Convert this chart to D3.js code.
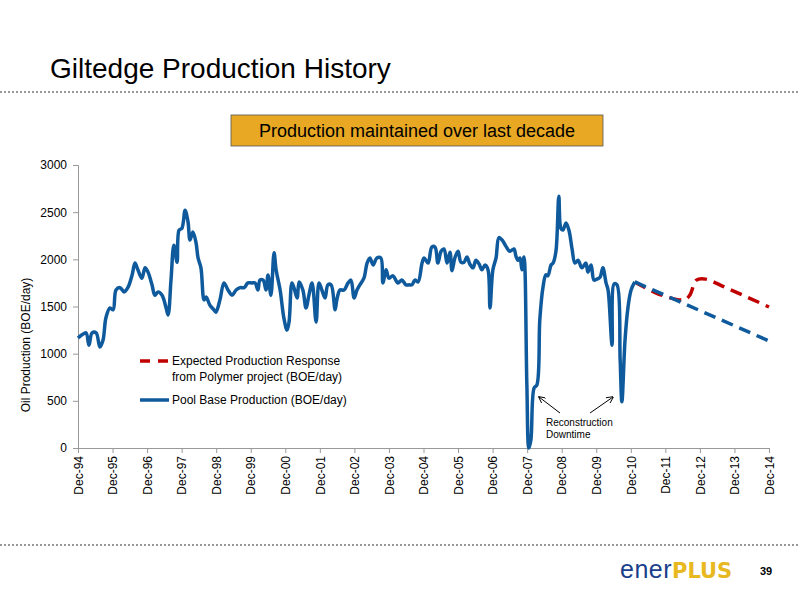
<!DOCTYPE html>
<html>
<meta charset="utf-8">
<style>
  body { margin: 0; background: #fff; }
  text { font-family: "Liberation Sans", Arial, sans-serif; }
</style>
<body>
<svg width="800" height="600"></svg>
<script src="https://d3js.org/d3.v7.min.js"></script>
<script>
// months since Dec-94
const baseMonths = [0,1.4,2.8,3.8,4.9,6.3,7.6,8.7,9.7,11.1,12.2,13.2,14.6,16.0,17.4,18.8,19.8,20.8,22.2,23.3,24.3,25.7,26.7,27.8,29.2,30.6,31.3,32.3,33.3,34.4,35.1,36.1,37.2,38.2,38.9,39.9,41.0,41.7,42.7,43.8,44.5,45.8,47.2,47.9,49.3,50.7,52.1,53.5,54.9,56.3,57.7,59.0,60.4,61.5,62.5,63.2,64.3,65.3,66.0,67.0,68.1,68.8,70.2,71.5,72.6,73.3,74.3,75.0,76.1,76.8,78.1,79.2,80.2,81.3,82.7,83.7,84.7,85.8,86.8,87.9,89.3,89.9,91.0,92.4,93.8,94.8,95.9,96.9,97.9,99.3,100.4,101.4,102.5,103.8,105.2,105.9,107.0,108.0,109.4,111.1,112.5,113.9,115.0,116.0,117.0,118.1,119.5,120.2,121.6,122.9,124.0,125.0,126.1,127.1,128.2,129.2,129.9,130.9,132.0,133.0,134.1,135.1,136.1,137.2,138.2,139.3,140.3,141.4,142.4,143.1,144.1,145.2,146.2,147.3,148.6,150.0,151.4,152.1,152.8,153.5,154.2,154.9,155.9,156.6,157.3,158.4,159.4,160.4,161.5,162.5,163.2,164.3,165.0,166.0,167.0,167.7,168.4,169.5,170.5,171.6,172.6,173.7,175.0,176.4,177.1,178.2,179.2,180.2,181.3,182.3,183.4,184.1,185.5,186.2,187.2,188.3,188.9,190.0,191.0,192.1,193.4];
const baseValues = [1166,1200,1220,1090,1220,1220,1070,1145,1380,1485,1465,1675,1700,1655,1705,1835,1960,1890,1800,1910,1865,1730,1620,1655,1620,1485,1410,1780,2150,1970,2310,2330,2520,2400,2205,2290,2175,2015,1910,1570,1600,1515,1465,1440,1570,1750,1675,1620,1675,1700,1700,1750,1750,1750,1675,1780,1780,1675,1835,1620,2070,1890,1675,1380,1250,1335,1750,1700,1590,1760,1675,1485,1620,1750,1335,1750,1675,1590,1730,1730,1465,1570,1675,1675,1750,1780,1590,1675,1730,1800,1960,2015,1940,2015,2015,1750,1890,1800,1825,1750,1780,1730,1730,1730,1780,1760,1960,2015,1960,2130,2130,1960,2085,2110,1960,2075,1880,2015,2085,1970,1970,2025,1950,1910,1990,1950,1890,1940,1890,1485,1890,2015,2230,2205,2140,2085,2110,2035,1990,2015,1890,2025,670,0,85,635,670,1360,1705,1835,1825,1940,1960,2085,2670,2330,2310,2385,2310,2110,1960,1990,1910,1960,1865,1940,1780,1790,1810,1910,1750,1675,1090,1740,1730,935,490,1145,1485,1675,1760];
const baseFcMonths = [193.4, 240];
const baseFcValues = [1760, 1135];
const polyMonths = [193.4, 201.8, 210.5, 212.5, 214.8, 218, 225, 240];
const polyValues = [1760, 1630, 1570, 1620, 1780, 1790, 1700, 1495];
const tickLabels = ["Dec-94","Dec-95","Dec-96","Dec-97","Dec-98","Dec-99","Dec-00","Dec-01","Dec-02","Dec-03","Dec-04","Dec-05","Dec-06","Dec-07","Dec-08","Dec-09","Dec-10","Dec-11","Dec-12","Dec-13","Dec-14"];
const yTicks = [0,500,1000,1500,2000,2500,3000];

const svg = d3.select('svg');
const blue = '#0f5a9c', red = '#c00000';

// title & separators
svg.append('text').attr('x', 50).attr('y', 78).attr('font-size', 28).text('Giltedge Production History');
[92, 545].forEach(y => svg.append('line').attr('x1', 0).attr('x2', 800).attr('y1', y).attr('y2', y)
  .attr('stroke', '#999').attr('stroke-width', 2).attr('stroke-dasharray', '2,2'));

svg.append('rect').attr('x', 231).attr('y', 115).attr('width', 372).attr('height', 31)
  .attr('fill', '#e8a823').attr('stroke', '#555').attr('stroke-width', 0.8);
svg.append('text').attr('x', 417).attr('y', 137).attr('text-anchor', 'middle').attr('font-size', 18)
  .text('Production maintained over last decade');

const x = d3.scaleLinear().domain([0, 240]).range([78, 769]);
const y = d3.scaleLinear().domain([0, 3000]).range([448, 165]);

// axes
const yAxis = svg.append('g').attr('transform', 'translate(78,0)')
  .call(d3.axisLeft(y).tickValues(yTicks).tickFormat(d3.format('d')).tickSize(5).tickPadding(6));
yAxis.selectAll('text').attr('font-size', 12).attr('fill', '#000');
yAxis.selectAll('line,path').attr('stroke', '#999');

const xAxis = svg.append('g').attr('transform', 'translate(0,448)')
  .call(d3.axisBottom(x).tickValues(d3.range(0, 241, 12)).tickSize(5).tickFormat((d, i) => tickLabels[i]));
xAxis.selectAll('line,path').attr('stroke', '#999');
xAxis.selectAll('text').attr('font-size', 12).attr('fill', '#000')
  .attr('transform', 'rotate(-90)').attr('text-anchor', 'end').attr('x', -8).attr('y', 0).attr('dy', '0.35em');

svg.append('text').attr('transform', 'translate(30,345) rotate(-90)').attr('text-anchor', 'middle')
  .attr('font-size', 12).text('Oil Production  (BOE/day)');

const line = d3.line().x(d => x(d[0])).y(d => y(d[1])).curve(d3.curveCatmullRom.alpha(0.5));

svg.append('path').datum(polyMonths.map((m, i) => [m, polyValues[i]])).attr('d', line)
  .attr('fill', 'none').attr('stroke', red).attr('stroke-width', 3.5).attr('stroke-dasharray', '12,7');
svg.append('path').datum(baseFcMonths.map((m, i) => [m, baseFcValues[i]])).attr('d', line)
  .attr('fill', 'none').attr('stroke', blue).attr('stroke-width', 3.5).attr('stroke-dasharray', '12,7');
svg.append('path').datum(baseMonths.map((m, i) => [m, baseValues[i]])).attr('d', line)
  .attr('fill', 'none').attr('stroke', blue).attr('stroke-width', 3.5).attr('stroke-linejoin', 'round');

// legend
const lg = svg.append('g').attr('font-size', 12);
lg.append('line').attr('x1', 140).attr('x2', 169).attr('y1', 361).attr('y2', 361)
  .attr('stroke', red).attr('stroke-width', 3.5).attr('stroke-dasharray', '10,8');
lg.append('text').attr('x', 172).attr('y', 365).text('Expected Production Response');
lg.append('text').attr('x', 172).attr('y', 381).text('from Polymer project (BOE/day)');
lg.append('line').attr('x1', 140).attr('x2', 169).attr('y1', 400).attr('y2', 400)
  .attr('stroke', blue).attr('stroke-width', 3.5);
lg.append('text').attr('x', 172).attr('y', 404).text('Pool Base Production (BOE/day)');

// annotation
svg.append('defs').append('marker').attr('id', 'ah').attr('viewBox', '0 0 10 10').attr('refX', 9).attr('refY', 5)
  .attr('markerWidth', 7).attr('markerHeight', 7).attr('orient', 'auto')
  .append('path').attr('d', 'M0,0 L10,5 L0,10').attr('fill', 'none').attr('stroke', '#000').attr('stroke-width', 1.3);
[[560, 413, 539, 397], [590, 413, 613, 397]].forEach(a => svg.append('line')
  .attr('x1', a[0]).attr('y1', a[1]).attr('x2', a[2]).attr('y2', a[3])
  .attr('stroke', '#000').attr('stroke-width', 1).attr('marker-end', 'url(#ah)'));
svg.append('text').attr('x', 546).attr('y', 426).attr('font-size', 10).text('Reconstruction');
svg.append('text').attr('x', 546).attr('y', 438).attr('font-size', 10).text('Downtime');

// footer
const logo = svg.append('text').attr('x', 620).attr('y', 578).attr('font-size', 25).attr('font-weight', 'bold');
logo.append('tspan').attr('fill', '#1b3f8b').attr('font-weight', 'normal').attr('letter-spacing', 0.5).text('ener');
logo.append('tspan').attr('fill', '#e8b820').attr('font-family', '"DejaVu Sans"').attr('font-size', 21).text('PLUS');
svg.append('text').attr('x', 760).attr('y', 575).attr('font-size', 11).attr('font-weight', 'bold').text('39');
</script>
</body>
</html>
